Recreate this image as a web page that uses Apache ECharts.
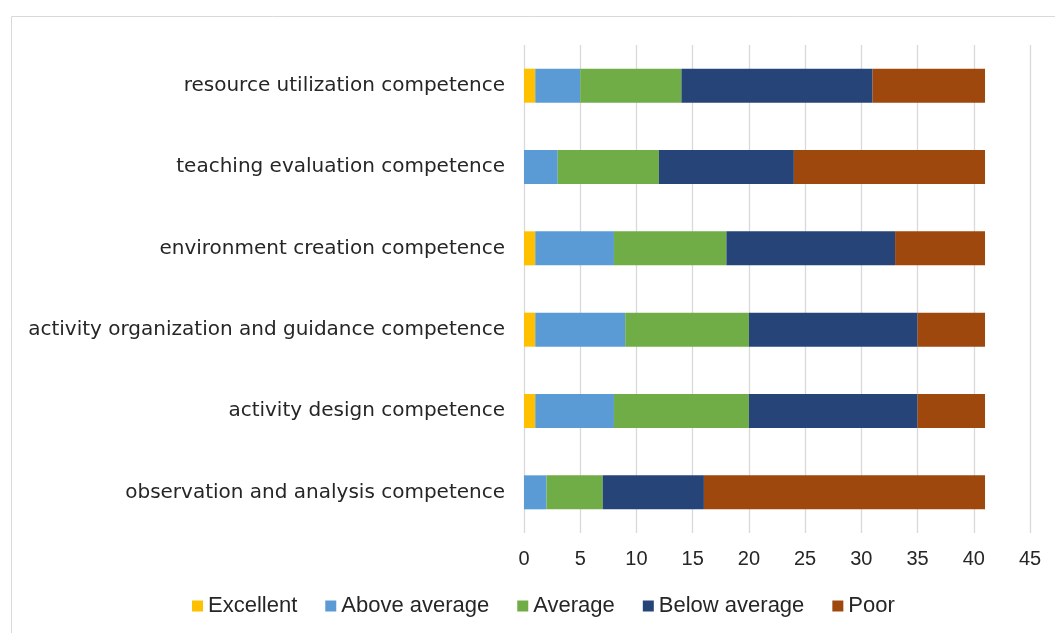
<!DOCTYPE html>
<html>
<head>
<meta charset="utf-8">
<script src="https://cdn.jsdelivr.net/npm/echarts@6/dist/echarts.min.js"></script>
<style>
html,body{margin:0;padding:0;background:#fff;}
#chart{width:1055px;height:633px;}
</style>
</head>
<body>
<div id="chart"></div>
<script>
const categories = [
  "observation and analysis competence",
  "activity design competence",
  "activity organization and guidance competence",
  "environment creation competence",
  "teaching evaluation competence",
  "resource utilization competence"
];
const seriesNames = ["Excellent", "Above average", "Average", "Below average", "Poor"];
const excellent    = [0, 1, 1, 1, 0, 1];
const aboveAverage = [2, 7, 8, 7, 3, 4];
const average      = [5, 12, 11, 10, 9, 9];
const belowAverage = [9, 15, 15, 15, 12, 17];
const poor         = [25, 6, 6, 8, 17, 10];
const xTicks = [0, 5, 10, 15, 20, 25, 30, 35, 40, 45];

const colors = ["#FFC000", "#5B9BD5", "#70AD47", "#264478", "#9E480E"];
const values = [excellent, aboveAverage, average, belowAverage, poor];
const font = "'Liberation Sans', Arial, sans-serif";
const catFont = "'DejaVu Sans', sans-serif";

const chart = echarts.init(document.getElementById('chart'), null, {renderer: 'canvas'});
chart.setOption({
  animation: false,
  backgroundColor: '#fff',
  textStyle: {fontFamily: font},
  graphic: [{
    type: 'rect',
    shape: {x: 11.5, y: 16.5, width: 1100, height: 700},
    style: {fill: 'none', stroke: '#d9d9d9', lineWidth: 1},
    silent: true
  }],
  grid: {left: 524, right: 25, top: 45, bottom: 100, containLabel: false},
  legend: {
    bottom: 11,
    left: 187,
    itemWidth: 11,
    itemHeight: 11,
    itemGap: 28,
    icon: 'rect',
    textStyle: {fontSize: 22, color: '#262626', fontFamily: font},
    data: seriesNames
  },
  xAxis: {
    type: 'value',
    min: xTicks[0],
    max: xTicks[xTicks.length - 1],
    interval: 5,
    axisLine: {show: false},
    axisTick: {show: false},
    splitLine: {show: true, lineStyle: {color: '#d9d9d9', width: 1.3}},
    axisLabel: {fontSize: 20, color: '#262626', margin: 16, fontFamily: font}
  },
  yAxis: {
    type: 'category',
    data: categories,
    axisLine: {show: false},
    axisTick: {show: false},
    axisLabel: {fontSize: 20, color: '#262626', margin: 19, fontFamily: catFont}
  },
  series: seriesNames.map((name, i) => ({
    name: name,
    type: 'bar',
    stack: 'total',
    barWidth: 34,
    itemStyle: {color: colors[i]},
    data: values[i]
  }))
});
</script>
</body>
</html>
